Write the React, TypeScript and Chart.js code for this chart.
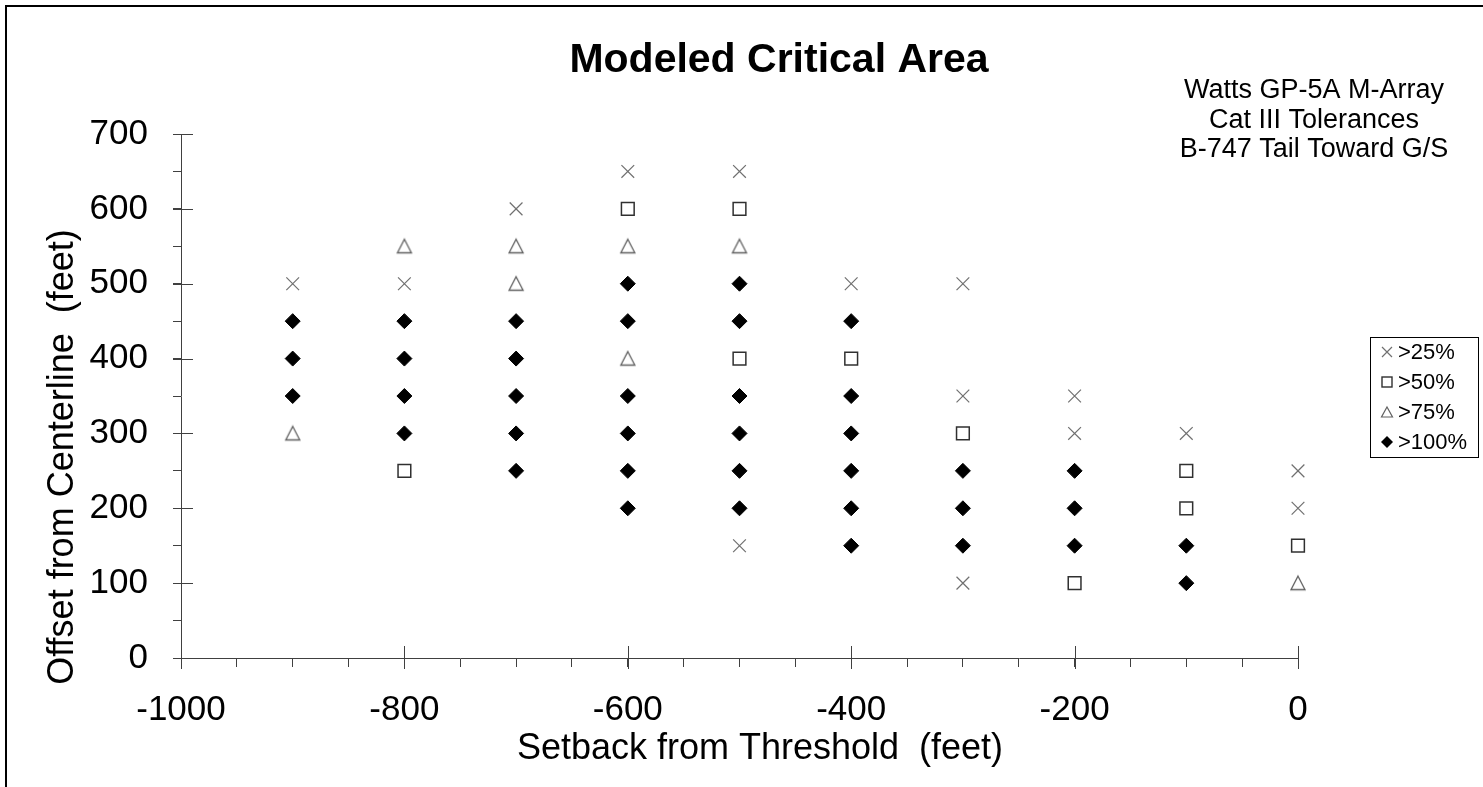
import React, { useEffect, useRef } from 'react';
import { Chart, registerables } from 'chart.js';

Chart.register(...registerables);

// ---- Data (setback x, offset y) ----
const gt25X = [-900, -800, -700, -600, -500, -500, -400, -300, -300, -300, -200, -200, -100, 0, 0];
const gt25Y = [500, 500, 600, 650, 650, 150, 500, 500, 350, 100, 350, 300, 300, 250, 200];

const gt50X = [-800, -600, -500, -500, -400, -300, -200, -100, -100, 0];
const gt50Y = [250, 600, 600, 400, 400, 300, 100, 250, 200, 150];

const gt75X = [-900, -800, -700, -700, -600, -600, -500, 0];
const gt75Y = [300, 550, 550, 500, 550, 400, 550, 100];

const gt100X = [
  -900, -900, -900,
  -800, -800, -800, -800,
  -700, -700, -700, -700, -700,
  -600, -600, -600, -600, -600, -600,
  -500, -500, -500, -500, -500, -500,
  -400, -400, -400, -400, -400, -400,
  -300, -300, -300,
  -200, -200, -200,
  -100, -100,
];
const gt100Y = [
  450, 400, 350,
  450, 400, 350, 300,
  450, 400, 350, 300, 250,
  500, 450, 350, 300, 250, 200,
  500, 450, 350, 300, 250, 200,
  450, 350, 300, 250, 200, 150,
  250, 200, 150,
  250, 200, 150,
  150, 100,
];

const seriesLabels = ['>25%', '>50%', '>75%', '>100%'];
const chartTitle = 'Modeled Critical Area';
const noteLines = ['Watts GP-5A M-Array', 'Cat III Tolerances', 'B-747 Tail Toward G/S'];
const xAxisTitle = 'Setback from Threshold  (feet)';
const yAxisTitle = 'Offset from Centerline  (feet)';
const xMin = -1000, xMax = 0, xMinorStep = 50, xMajorStep = 200;
const yMin = 0, yMax = 700, yMinorStep = 50, yMajorStep = 100;

const FONT = '"Liberation Sans", Arial, Helvetica, sans-serif';
const AXIS = '#404040';

const zip = (xs: number[], ys: number[]) => xs.map((x, i) => ({ x, y: ys[i] }));

// triangle marker centred on its bounding box
function makeTriangle(): HTMLCanvasElement {
  const c = document.createElement('canvas');
  c.width = 18;
  c.height = 18;
  const g = c.getContext('2d')!;
  g.strokeStyle = '#606060';
  g.lineWidth = 1.3;
  g.beginPath();
  g.moveTo(9, 2);
  g.lineTo(16, 15.5);
  g.lineTo(2, 15.5);
  g.closePath();
  g.stroke();
  return c;
}

const decorPlugin = {
  id: 'decor',
  afterDraw(chart: any) {
    const ctx = chart.ctx as CanvasRenderingContext2D;
    const xs = chart.scales.x;
    const ys = chart.scales.y;
    ctx.save();

    // outer frame (top and left visible)
    ctx.strokeStyle = '#000';
    ctx.lineWidth = 2;
    ctx.beginPath();
    ctx.moveTo(6, 800);
    ctx.lineTo(6, 6);
    ctx.lineTo(1500, 6);
    ctx.stroke();

    // inward part of major ticks
    ctx.strokeStyle = AXIS;
    ctx.lineWidth = 1;
    ctx.beginPath();
    for (const t of xs.ticks) {
      if (Math.abs(t.value % xMajorStep) < 1e-6) {
        const px = Math.round(xs.getPixelForValue(t.value)) + 0.5;
        ctx.moveTo(px, xs.top - 12);
        ctx.lineTo(px, xs.top + 11);
      }
    }
    for (const t of ys.ticks) {
      if (Math.abs(t.value % yMajorStep) < 1e-6) {
        const py = Math.round(ys.getPixelForValue(t.value)) + 0.5;
        ctx.moveTo(ys.right - 8, py);
        ctx.lineTo(ys.right + 12, py);
      }
    }
    ctx.stroke();

    ctx.fillStyle = '#000';
    // main title
    ctx.font = `bold 41px ${FONT}`;
    ctx.textAlign = 'center';
    ctx.textBaseline = 'alphabetic';
    ctx.fillText(chartTitle, 779, 72);

    // note lines
    ctx.font = `27px ${FONT}`;
    const noteBase = [98, 128, 157];
    noteLines.forEach((l, i) => ctx.fillText(l, 1314, noteBase[i]));

    // x axis title
    ctx.font = `36px ${FONT}`;
    ctx.fillText(xAxisTitle, 760, 759);

    // y axis title
    ctx.save();
    ctx.translate(73, 457);
    ctx.rotate(-Math.PI / 2);
    ctx.fillText(yAxisTitle, 0, 0);
    ctx.restore();

    // legend
    const bx = 1370, by = 337, bw = 108, bh = 120;
    ctx.strokeStyle = '#000';
    ctx.lineWidth = 1;
    ctx.strokeRect(bx + 0.5, by + 0.5, bw, bh);
    ctx.font = `22px ${FONT}`;
    ctx.textAlign = 'left';
    ctx.textBaseline = 'middle';
    const rows = [352, 382, 412, 442];
    const sx = 1387;
    rows.forEach((cy, i) => {
      ctx.beginPath();
      if (i === 0) {
        ctx.strokeStyle = '#707070';
        ctx.lineWidth = 1.2;
        ctx.moveTo(sx - 5, cy - 5); ctx.lineTo(sx + 5, cy + 5);
        ctx.moveTo(sx + 5, cy - 5); ctx.lineTo(sx - 5, cy + 5);
        ctx.stroke();
      } else if (i === 1) {
        ctx.strokeStyle = '#303030';
        ctx.lineWidth = 1.4;
        ctx.strokeRect(sx - 5, cy - 5, 10, 10);
      } else if (i === 2) {
        ctx.strokeStyle = '#606060';
        ctx.lineWidth = 1.2;
        ctx.moveTo(sx, cy - 5); ctx.lineTo(sx + 5.5, cy + 5); ctx.lineTo(sx - 5.5, cy + 5); ctx.closePath();
        ctx.stroke();
      } else {
        ctx.fillStyle = '#000';
        ctx.moveTo(sx, cy - 6); ctx.lineTo(sx + 6, cy); ctx.lineTo(sx, cy + 6); ctx.lineTo(sx - 6, cy); ctx.closePath();
        ctx.fill();
      }
      ctx.fillStyle = '#000';
      ctx.fillText(seriesLabels[i], 1398, cy + 1);
    });

    ctx.restore();
  },
};

export default function App() {
  const ref = useRef<HTMLCanvasElement | null>(null);

  useEffect(() => {
    document.body.style.margin = '0';
    const canvas = ref.current;
    if (!canvas) return;
    const tri = makeTriangle();
    const chart = new Chart(canvas, {
      type: 'scatter',
      data: {
        datasets: [
          {
            label: seriesLabels[0],
            data: zip(gt25X, gt25Y),
            pointStyle: 'crossRot',
            pointRadius: 9,
            borderColor: '#707070',
            backgroundColor: 'rgba(0,0,0,0)',
            borderWidth: 1.2,
            clip: false,
          },
          {
            label: seriesLabels[1],
            data: zip(gt50X, gt50Y),
            pointStyle: 'rect',
            pointRadius: 9,
            borderColor: '#303030',
            backgroundColor: 'rgba(255,255,255,0)',
            borderWidth: 1.5,
            clip: false,
          },
          {
            label: seriesLabels[2],
            data: zip(gt75X, gt75Y),
            pointStyle: tri,
            pointRadius: 8,
            borderColor: '#606060',
            backgroundColor: 'rgba(255,255,255,0)',
            borderWidth: 1.3,
            clip: false,
          },
          {
            label: seriesLabels[3],
            data: zip(gt100X, gt100Y),
            pointStyle: 'rectRot',
            pointRadius: 7.5,
            borderColor: '#000',
            backgroundColor: '#000',
            borderWidth: 1,
            clip: false,
          },
        ],
      },
      options: {
        responsive: false,
        animation: false,
        devicePixelRatio: 1,
        layout: { padding: { top: 134, right: 185, bottom: 0, left: 0 } },
        plugins: {
          legend: { display: false },
          title: { display: false },
          tooltip: { enabled: false },
        },
        scales: {
          x: {
            type: 'linear',
            min: xMin,
            max: xMax,
            ticks: {
              stepSize: xMinorStep,
              autoSkip: false,
              maxRotation: 0,
              padding: 22,
              color: '#000',
              font: { family: FONT, size: 35 },
              callback: (v: any) => (Math.abs(Number(v) % xMajorStep) < 1e-6 ? String(v) : ''),
            },
            grid: {
              display: true,
              drawOnChartArea: false,
              drawTicks: true,
              tickLength: 9,
              color: AXIS,
              lineWidth: 1,
            },
            border: { display: true, color: AXIS, width: 1 },
            afterFit: (s: any) => {
              s.height = 129;
            },
          },
          y: {
            type: 'linear',
            min: yMin,
            max: yMax,
            ticks: {
              stepSize: yMinorStep,
              autoSkip: false,
              padding: 25,
              color: '#000',
              font: { family: FONT, size: 35 },
              callback: (v: any) => (Math.abs(Number(v) % yMajorStep) < 1e-6 ? String(v) : ''),
            },
            grid: {
              display: true,
              drawOnChartArea: false,
              drawTicks: true,
              tickLength: 8,
              color: AXIS,
              lineWidth: 1,
            },
            border: { display: true, color: AXIS, width: 1 },
            afterFit: (s: any) => {
              s.width = 181;
            },
          },
        },
      },
      plugins: [decorPlugin],
    } as any);
    return () => chart.destroy();
  }, []);

  return (
    <div style={{ width: 1483, height: 787, background: '#fff' }}>
      <canvas ref={ref} width={1483} height={787} style={{ display: 'block', width: 1483, height: 787 }} />
    </div>
  );
}
